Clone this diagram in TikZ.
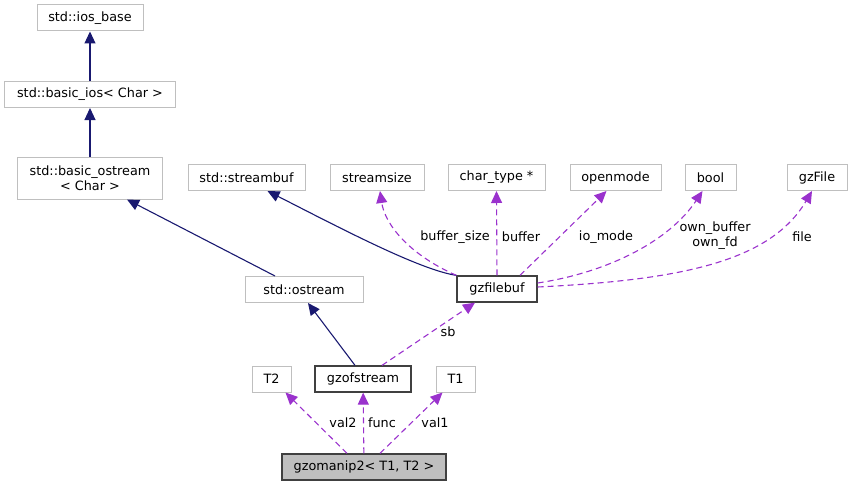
\documentclass[tikz,border=0pt]{standalone}
\usepackage{fontspec}
\setmainfont{DejaVu Sans}
\usepackage{xcolor}
\usepackage{tikz}
\usetikzlibrary{positioning,shapes,arrows.meta,calc}

\definecolor{inhblue}{HTML}{191970}
\definecolor{usepurple}{HTML}{9A32CD}
\definecolor{boxgray}{HTML}{BFBFBF}
\definecolor{boxdark}{HTML}{404040}

\tikzset{
  extbox/.style={draw=boxgray, rectangle, fill=white, line width=1pt, minimum height=26pt, inner xsep=8pt},
  clsbox/.style={draw=boxdark, rectangle, fill=white, line width=1.3pt, minimum height=26pt, inner xsep=8pt},
  inh/.style={draw=inhblue, line width=1.1pt, -{Triangle[length=12pt, width=11pt]}},
  usage/.style={draw=usepurple, line width=1.1pt, dash pattern=on 6pt off 4pt, -{Triangle[length=12pt, width=11pt]}},
  lbl/.style={inner sep=1pt, align=center}
}

\begin{document}
\begin{tikzpicture}[x=1pt, y=-1pt, font=\fontsize{12.8}{15}\selectfont]
    \useasboundingbox (0,0) rectangle (853,487);

    % base classes
    \node[extbox, minimum width=106pt] (iosbase) at (90,18) {std::ios\_base};
    \node[extbox, minimum width=171pt] (basicios) at (90,94.5) {std::basic\_ios< Char >};
    \node[extbox, minimum width=145pt, minimum height=42pt, align=center] (basicostream) at (90,178) {std::basic\_ostream\\< Char >};
    \node[extbox, minimum width=117pt] (streambuf) at (246.5,177.5) {std::streambuf};
    \node[extbox, minimum width=94pt] (streamsize) at (377,177.5) {streamsize};
    \node[extbox, minimum width=97pt] (chartype) at (496.5,177.5) {char\_type *};
    \node[extbox, minimum width=91pt] (openmode) at (615.5,177.5) {openmode};
    \node[extbox, minimum width=51pt] (bool) at (710.5,177.5) {bool};
    \node[extbox, minimum width=60pt] (gzfile) at (817,177.5) {gzFile};
    \node[extbox, minimum width=118pt] (ostream) at (304,289.5) {std::ostream};
    \node[clsbox, minimum width=80pt] (gzfilebuf) at (497,289) {gzfilebuf};
    \node[extbox, minimum width=39pt] (ttwo) at (271.5,379) {T2};
    \node[clsbox, minimum width=96pt] (gzofstream) at (363,379) {gzofstream};
    \node[extbox, minimum width=39pt] (tone) at (455.5,379) {T1};
    \node[clsbox, fill=boxgray, minimum width=164pt] (gzomanip) at (364,467) {gzomanip2< T1, T2 >};

    % inheritance
    \draw[inh] (basicios) -- (iosbase);
    \draw[inh] (basicostream) -- (basicios);
    \draw[inh] ($(ostream.north)+(-29,0)$) -- ($(basicostream.south)+(37,0)$);
    \draw[inh] (gzfilebuf.north west) .. controls (420,270) and (340,228) .. ($(streambuf.south)+(21,0)$);
    \draw[inh] ($(gzofstream.north)+(-8,0)$) -- ($(ostream.south)+(4,0)$);

    % members
    \draw[usage] (gzfilebuf.north west) .. controls (410,255) and (385,225) .. ($(streamsize.south)+(3,0)$);
    \draw[usage] (gzfilebuf.north) -- (chartype.south);
    \draw[usage] ($(gzfilebuf.north)+(23,0)$) -- ($(openmode.south)+(-9,0)$);
    \draw[usage] ($(gzfilebuf.east)+(0,-6)$) .. controls (610,272) and (670,240) .. ($(bool.south)+(-8,0)$);
    \draw[usage] ($(gzfilebuf.east)+(0,-2)$) .. controls (680,280) and (770,262) .. ($(gzfile.south)+(-5,0)$);
    \draw[usage] ($(gzofstream.north)+(19,0)$) -- ($(gzfilebuf.south)+(-22,0)$);
    \draw[usage] ($(gzomanip.north)+(-17,0)$) -- ($(ttwo.south)+(14,0)$);
    \draw[usage] (gzomanip) -- (gzofstream);
    \draw[usage] ($(gzomanip.north)+(16,0)$) -- ($(tone.south)+(-13,0)$);

    % edge labels
    \node[lbl] (lbufsize) at (455,237) {buffer\_size};
    \node[lbl] (lbuffer) at (521,237) {buffer};
    \node[lbl] (liomode) at (606,237) {io\_mode};
    \node[lbl] (lown) at (715,236) {own\_buffer\\own\_fd};
    \node[lbl] (lfile) at (802,237) {file};
    \node[lbl] (lsb) at (448,332) {sb};
    \node[lbl] (lvaltwo) at (343,423) {val2};
    \node[lbl] (lfunc) at (382,423) {func};
    \node[lbl] (lvalone) at (435,423) {val1};
\end{tikzpicture}
\end{document}
